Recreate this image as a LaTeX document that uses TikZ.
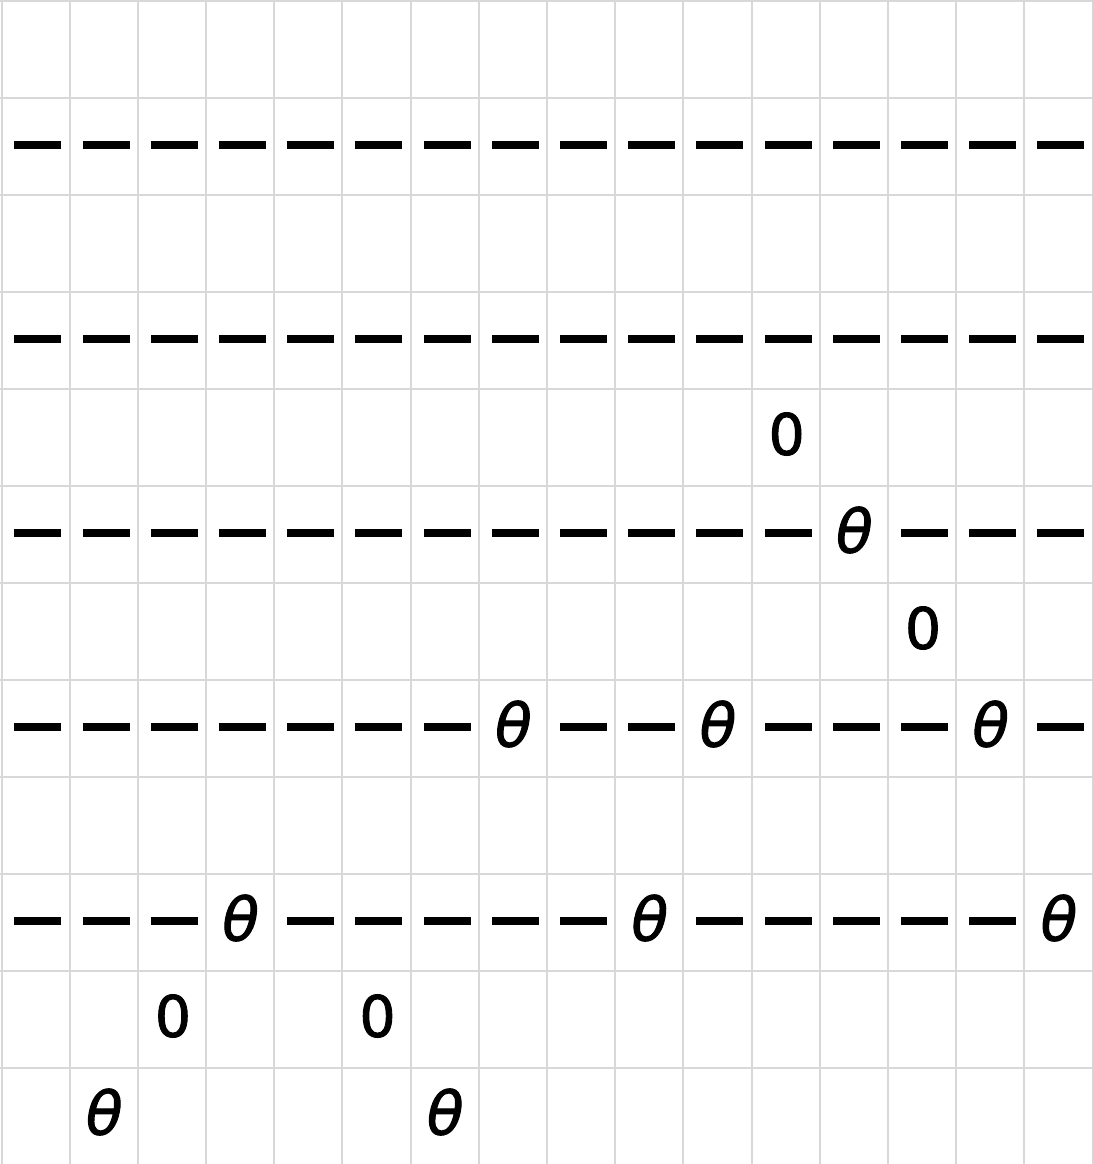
\documentclass[tikz,border=0pt]{standalone}
\usepackage{fontspec}
\setmainfont{DejaVu Sans}
\newfontfamily\heavyfont{DejaVu Sans}[FakeBold=1.6]
\definecolor{gridgray}{RGB}{216,216,216}
\begin{document}
\begin{tikzpicture}[x=1pt,y=-1pt,
  gridline/.style={draw=gridgray,line width=2pt},
  dashmark/.style={rectangle,fill=black,draw=none,minimum width=47pt,minimum height=7.5pt,inner sep=0pt},
  zeromark/.style={font=\heavyfont\fontsize{57}{57}\selectfont,inner sep=0pt},
  thetamark/.style={font=\heavyfont\fontsize{60}{60}\selectfont\itshape,inner sep=0pt}]
\useasboundingbox (0,0) rectangle (1092,1164);
\fill[white] (0,0) rectangle (1092,1164);
\foreach \i in {0,...,16} \draw[gridline] ({1.5+\i*68.19},0) -- ({1.5+\i*68.19},1164);
\foreach \j in {0,...,11} \draw[gridline] (0,{1+\j*97}) -- (1092,{1+\j*97});
% dashes
\foreach \r/\a/\b in {1/0/15,3/0/15,5/0/11,5/13/15,7/0/6,7/8/9,7/11/13,7/15/15,9/0/2,9/4/8,9/10/14}
  \foreach \c in {\a,...,\b}
    \node[dashmark] (d\r-\c) at ({1.5+(\c+0.5)*68.19+2.4},{49.5+\r*97-1.5}) {};
% thetas
\foreach \r/\c in {5/12,7/7,7/10,7/14,9/3,9/9,9/15,11/1,11/6}
  \node[thetamark] (t\r-\c) at ({1.5+(\c+0.5)*68.19+0.5},{49.5+\r*97-4.5}) {θ};
% zeros
\foreach \r/\c in {4/11,6/13,10/2,10/5}
  \node[zeromark] (z\r-\c) at ({1.5+(\c+0.5)*68.19+1},{49.5+\r*97-3.5}) {0};
\end{tikzpicture}
\end{document}
